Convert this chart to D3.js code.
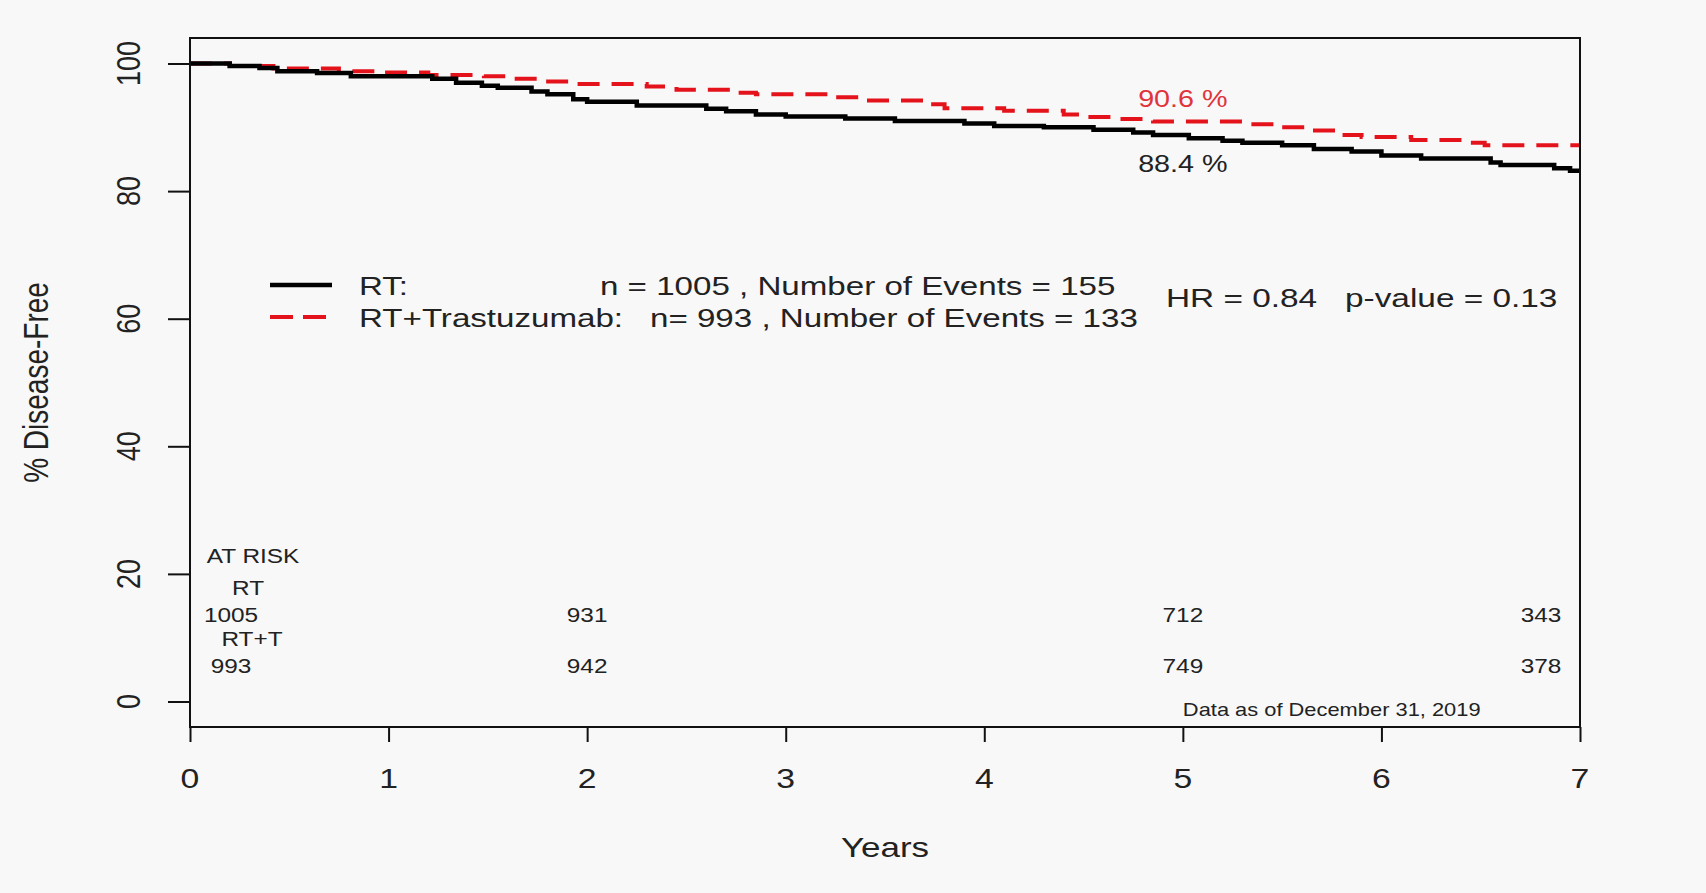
<!DOCTYPE html>
<html>
<meta charset="utf-8" />
<style>
	html, body { margin: 0; padding: 0; background: #f8f8f8; }
	svg { display: block; }
	text { font-family: "Liberation Sans", Arial, sans-serif; fill: #222; white-space: pre; }
</style>
<svg width="1706" height="893"></svg>
<script src="https://d3js.org/d3.v7.min.js"></script>
<script>
	// Kaplan-Meier steps: [years, % disease-free]
	var rtSteps = [
		[0, 100], [0.2, 99.6], [0.35, 99.3], [0.44, 98.8], [0.64, 98.5], [0.81, 98.0], [1.22, 97.6],
		[1.34, 97.0], [1.47, 96.5], [1.55, 96.2], [1.72, 95.6], [1.8, 95.2], [1.93, 94.4], [2.0, 94.0],
		[2.25, 93.4], [2.6, 92.9], [2.7, 92.5], [2.85, 92.0], [3.0, 91.7], [3.3, 91.4], [3.55, 91.0],
		[3.9, 90.6], [4.05, 90.2], [4.3, 90.0], [4.55, 89.6], [4.75, 89.2], [4.85, 88.8], [5.03, 88.3],
		[5.2, 87.9], [5.3, 87.6], [5.5, 87.2], [5.66, 86.6], [5.85, 86.2], [6.0, 85.6], [6.2, 85.1],
		[6.55, 84.5], [6.6, 84.1], [6.87, 83.6], [6.95, 83.2], [7, 83.2]
	];
	var rttSteps = [
		[0, 100], [0.2, 99.6], [0.42, 99.2], [0.75, 98.8], [0.95, 98.6], [1.2, 98.2], [1.48, 98.0],
		[1.6, 97.6], [1.78, 97.2], [1.95, 96.8], [2.3, 96.4], [2.45, 95.9], [2.75, 95.4], [2.85, 95.2],
		[3.25, 94.7], [3.4, 94.2], [3.7, 93.6], [3.8, 93.0], [4.1, 92.6], [4.4, 92.0], [4.5, 91.6],
		[4.65, 91.3], [4.85, 90.9], [5.3, 90.5], [5.5, 90.0], [5.65, 89.5], [5.8, 88.8], [5.9, 88.5],
		[6.15, 88.0], [6.45, 87.6], [6.52, 87.2], [7, 87.2]
	];
	var xTicks = [0, 1, 2, 3, 4, 5, 6, 7];
	var yTicks = [0, 20, 40, 60, 80, 100];
	var atRiskTimes = [0, 2, 5, 7];
	var atRiskRT = [1005, 931, 712, 343];
	var atRiskRTT = [993, 942, 749, 378];
	var legendNames = ["RT:", "RT+Trastuzumab:"];
	var legendInfo = ["n = 1005 , Number of Events = 155", "n= 993 , Number of Events = 133"];
	var labelRT = "88.4 %", labelRTT = "90.6 %";

	var svg = d3.select("svg");
	var m = { left: 190, right: 1580, top: 38, bottom: 727 };
	var S = 1.25; // the source picture is stretched sideways

	var x = d3.scaleLinear().domain([0, 7]).range([m.left, m.right]);
	var y = d3.scaleLinear().domain([-4, 104]).range([m.bottom, m.top]);

	function label(str, px, py, size, anchor, rot, color, sx) {
		var tr = "translate(" + px + "," + py + ") scale(" + (sx || S) + ",1)" + (rot ? " rotate(-90)" : "");
		return svg.append("text").attr("transform", tr).attr("font-size", size)
			.attr("text-anchor", anchor || "start").style("fill", color || null).text(str);
	}

	// axes
	svg.append("g").attr("transform", "translate(0," + m.bottom + ")")
		.call(d3.axisBottom(x).tickValues(xTicks).tickSize(15).tickFormat(""))
		.call(function (g) { g.select(".domain").remove(); g.selectAll("line").attr("stroke", "#111").attr("stroke-width", 2); });
	svg.append("g").attr("transform", "translate(" + m.left + ",0)")
		.call(d3.axisLeft(y).tickValues(yTicks).tickSize(22).tickFormat(""))
		.call(function (g) { g.select(".domain").remove(); g.selectAll("line").attr("stroke", "#111").attr("stroke-width", 2); });
	xTicks.forEach(function (t) { label(t, x(t), 788, 27, "middle"); });
	yTicks.forEach(function (t) { label(t, 140, y(t), 27, "middle", true); });

	label("Years", 885, 857, 28, "middle");
	label("% Disease-Free", 48, (m.top + m.bottom) / 2, 28, "middle", true);

	// curves
	var line = d3.line().curve(d3.curveStepAfter)
		.x(function (d) { return x(d[0]); }).y(function (d) { return y(d[1]); });
	svg.append("path").datum(rttSteps).attr("d", line).attr("fill", "none")
		.attr("stroke", "#e3121b").attr("stroke-width", 4).attr("stroke-dasharray", "22 12");
	svg.append("path").datum(rtSteps).attr("d", line).attr("fill", "none")
		.attr("stroke", "#000").attr("stroke-width", 4.5);

	// frame
	svg.append("rect").attr("x", m.left).attr("y", m.top).attr("width", m.right - m.left).attr("height", m.bottom - m.top)
		.attr("fill", "none").attr("stroke", "#111").attr("stroke-width", 2);

	label(labelRTT, x(5), 107, 23, "middle", false, "#e0343c");
	label(labelRT, x(5), 172, 23, "middle");

	// legend
	var rows = [295, 327];
	svg.append("line").attr("x1", 270).attr("x2", 332).attr("y1", rows[0] - 10).attr("y2", rows[0] - 10)
		.attr("stroke", "#000").attr("stroke-width", 4.5);
	svg.append("line").attr("x1", 270).attr("x2", 332).attr("y1", rows[1] - 10).attr("y2", rows[1] - 10)
		.attr("stroke", "#e3121b").attr("stroke-width", 4).attr("stroke-dasharray", "23 10");
	var infoX = [600, 650];
	legendNames.forEach(function (n, i) {
		label(n, 359, rows[i], 26.5);
		label(legendInfo[i], infoX[i], rows[i], 26.5);
	});
	label("HR = 0.84   p-value = 0.13", 1166, 307, 26.5, "start", false, null, 1.26);

	// numbers at risk
	function riskX(t) { return Math.max(x(0) + 41, Math.min(x(7) - 39, x(t))); }
	label("AT RISK", 253, 563, 19.5, "middle");
	label("RT", 248, 595, 19.5, "middle");
	label("RT+T", 252, 646, 19.5, "middle");
	atRiskTimes.forEach(function (t, i) {
		label(atRiskRT[i], riskX(t), 622, 19.5, "middle");
		label(atRiskRTT[i], riskX(t), 673, 19.5, "middle");
	});
	label("Data as of December 31, 2019", x(5), 716, 17.5);
</script>
</html>
